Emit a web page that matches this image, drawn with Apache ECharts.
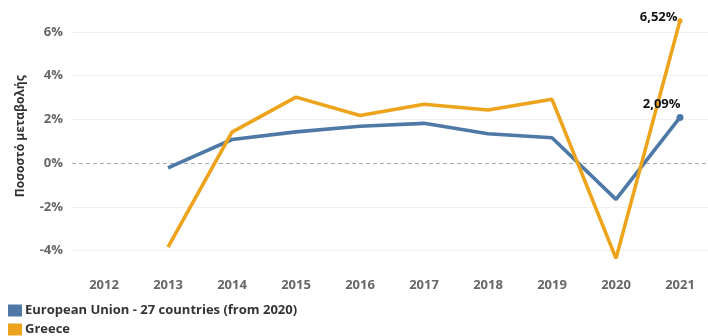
<!DOCTYPE html>
<html>
<head>
<meta charset="utf-8">
<script src="https://cdn.jsdelivr.net/npm/echarts@6/dist/echarts.min.js"></script>
<style>
  html, body { margin: 0; padding: 0; background: #fff; }
  #chart { width: 708px; height: 336px; }
</style>
</head>
<body>
<div id="chart"></div>
<script>
// Annual percentage change, 2012–2021
const years = ['2012', '2013', '2014', '2015', '2016', '2017', '2018', '2019', '2020', '2021'];
const euValues = [null, -0.22, 1.08, 1.43, 1.69, 1.82, 1.34, 1.16, -1.66, 2.09];
const greeceValues = [null, -3.84, 1.42, 3.02, 2.18, 2.69, 2.43, 2.92, -4.36, 6.52];
const seriesNames = ['European Union - 27 countries (from 2020)', 'Greece'];
const yAxisTitle = 'Ποσοστό μεταβολής';

const EU_COLOR = '#4e79a7';
const GR_COLOR = '#eda41c';
const FONT = '"Open Sans", "Noto Sans", sans-serif';

const fmtPct = v => v.toFixed(2).replace('.', ',') + '%';

function lineSeries(name, values, color, labelOffset, dotSize) {
  const last = values.length - 1;
  return {
    name: name,
    type: 'line',
    data: values.map((v, i) => i === last ? {
      value: v,
      symbol: 'circle',
      symbolSize: dotSize,
      label: {
        show: true,
        formatter: fmtPct(v),
        position: 'left',
        offset: labelOffset,
        color: '#111',
        fontFamily: FONT,
        fontWeight: 'bold',
        fontSize: 13
      }
    } : v),
    symbol: 'none',
    showSymbol: true,
    clip: false,
    connectNulls: false,
    lineStyle: { color: color, width: 3.6 },
    itemStyle: { color: color },
    emphasis: { disabled: true },
    z: 3
  };
}

const chart = echarts.init(document.getElementById('chart'), null, { renderer: 'canvas' });

const eu = lineSeries(seriesNames[0], euValues, EU_COLOR, [9, -13], 7);
eu.markLine = {
  silent: true,
  symbol: 'none',
  label: { show: false },
  lineStyle: { color: '#aaaaaa', type: [4, 3], width: 1 },
  data: [{ yAxis: 0 }],
  z: 1
};

chart.setOption({
  animation: false,
  backgroundColor: '#fff',
  textStyle: { fontFamily: FONT },
  grid: {
    left: 72, right: -4, top: 32, bottom: 85.5,
    containLabel: false,
    outerBoundsMode: 'none'
  },
  legend: {
    orient: 'vertical',
    left: 8,
    bottom: -1,
    padding: 0,
    itemGap: 4,
    itemWidth: 14,
    itemHeight: 12,
    icon: 'rect',
    data: seriesNames.map((n, i) => ({
      name: n,
      itemStyle: { color: i === 0 ? EU_COLOR : GR_COLOR }
    })),
    textStyle: {
      fontFamily: FONT,
      fontWeight: 'bold',
      fontSize: 13,
      lineHeight: 15,
      color: '#333',
      padding: [0, 0, 0, -2]
    },
    selectedMode: false
  },
  xAxis: {
    type: 'category',
    data: years,
    boundaryGap: true,
    axisLine: { show: false },
    axisTick: { show: false },
    splitLine: { show: false },
    axisLabel: {
      margin: 28,
      color: '#666',
      fontFamily: FONT,
      fontWeight: 'bold',
      fontSize: 13
    }
  },
  yAxis: {
    type: 'value',
    min: -4,
    max: 6,
    interval: 2,
    name: yAxisTitle,
    nameLocation: 'middle',
    nameGap: 45,
    nameRotate: 90,
    nameTextStyle: {
      color: '#333',
      fontFamily: FONT,
      fontWeight: 'bold',
      fontSize: 12,
      padding: [0, 0, 0, 10]
    },
    axisLine: { show: false },
    axisTick: { show: false },
    axisLabel: {
      margin: 9,
      color: '#666',
      fontFamily: FONT,
      fontWeight: 'bold',
      fontSize: 13,
      formatter: v => v + '%'
    },
    splitLine: {
      lineStyle: { color: ['#f0f0f0', '#f0f0f0', 'rgba(0,0,0,0)', '#f0f0f0', '#f0f0f0', '#f0f0f0'], width: 1 }
    }
  },
  series: [
    eu,
    lineSeries(seriesNames[1], greeceValues, GR_COLOR, [5, -3], 5)
  ]
});
</script>
</body>
</html>
